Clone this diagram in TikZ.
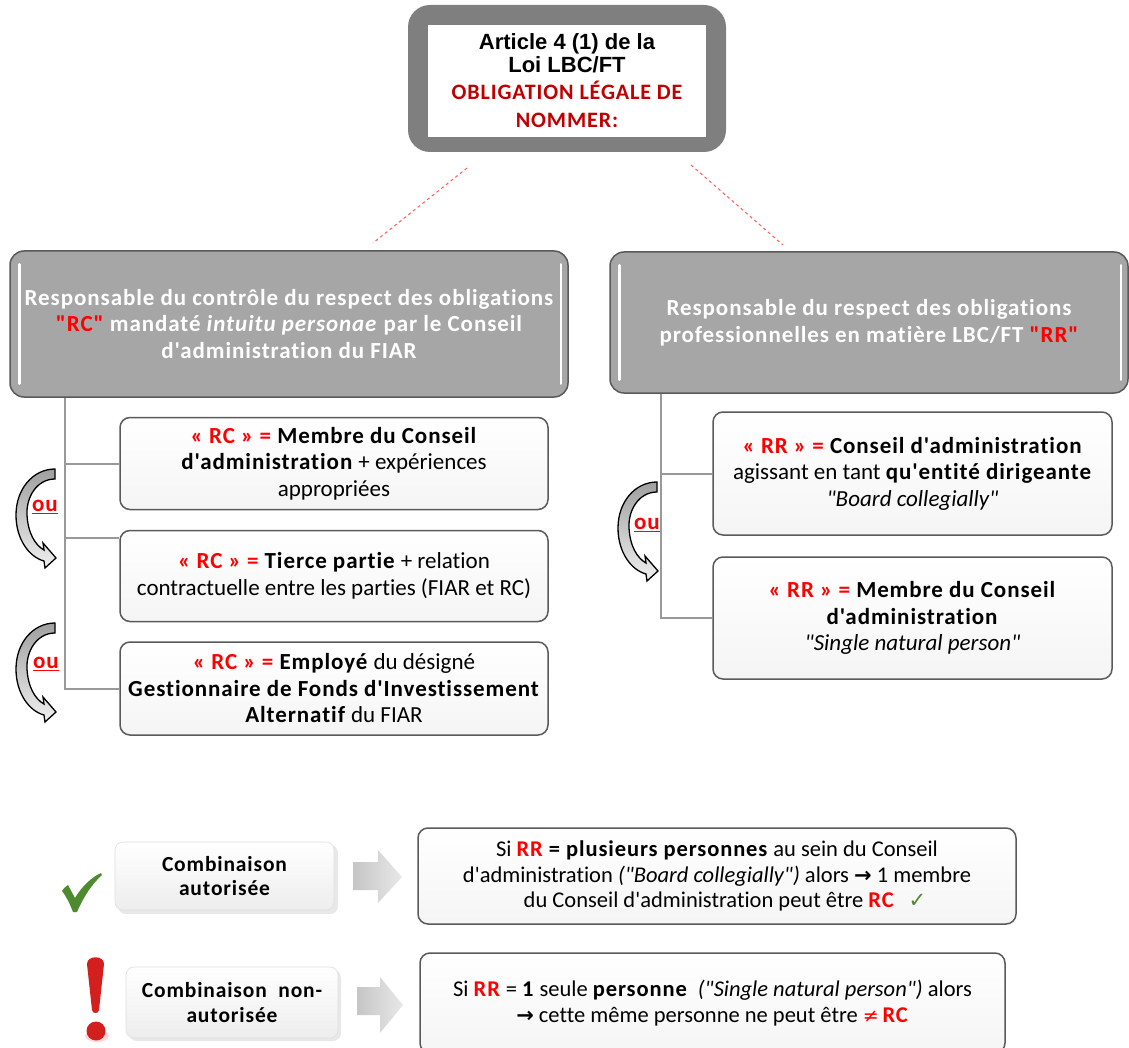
\documentclass[tikz,border=0pt]{standalone}
\usepackage{fontspec}
\setmainfont{Carlito}[Ligatures={TeXOff,CommonOff}, BoldFeatures={LetterSpace=4}, BoldItalicFeatures={LetterSpace=4}]
\newfontfamily\arial{Liberation Sans}
\newfontfamily\dejavu{DejaVu Sans}
\usetikzlibrary{calc}
\definecolor{hdrgray}{HTML}{A6A6A6}
\definecolor{hdrborder}{HTML}{5A5A5A}
\definecolor{topgray}{HTML}{7F7F7F}
\definecolor{darkred}{HTML}{C00000}
\definecolor{brightred}{HTML}{FF0000}
\definecolor{linegray}{HTML}{999999}
\definecolor{chkgreen}{HTML}{4E8A2E}
\definecolor{dashred}{HTML}{FF5A5A}
\definecolor{excred}{HTML}{D41F1F}
\tikzset{
  hdr/.style={draw=hdrborder, line width=1.5pt, fill=hdrgray, rounded corners=14pt,
    text=white, align=center, font=\bfseries\fontsize{23}{26.5}\selectfont},
  infobox/.style={draw=hdrborder, line width=1.5pt, top color=white, bottom color=gray!8,
    rounded corners=10pt, align=center, font=\fontsize{23}{26.5}\selectfont},
  sumbox/.style={infobox, font=\fontsize{22.5}{25.5}\selectfont},
  combobox/.style={draw=gray!25, line width=0.6pt, top color=white, bottom color=gray!14,
    rounded corners=8pt, align=center, font=\bfseries\fontsize{21.5}{24.5}\selectfont},
  tree/.style={draw=linegray, line width=2pt},
  hilite/.style={draw=white, line width=2.5pt, line cap=round},
  dashlink/.style={draw=dashred, line width=1pt, dash pattern=on 3pt off 3pt},
  oulabel/.style={text=brightred, font=\bfseries\fontsize{23}{24}\selectfont},
  blockarrow/.style={left color=gray!45, right color=gray!18, draw=none},
  ouarrow/.pic={
    \draw[line width=1.3pt, top color=gray!75, bottom color=gray!12]
      (0,0) -- (0,10)
      .. controls (-18,10) and (-29,28) .. (-28,46)
      .. controls (-27,64) and (-20,76) .. (-11,81)
      -- (-12,74) -- (1,89) -- (-10,99) -- (-11,92)
      .. controls (-26,88) and (-39,70) .. (-39,46)
      .. controls (-39,20) and (-22,0) .. (0,0) -- cycle;
  }
}
\newcommand{\rd}[1]{{\color{brightred}#1}}
\newcommand{\rarr}{{\dejavu\bfseries\fontsize{21}{22}\selectfont →}}
\begin{document}
\begin{tikzpicture}[x=1pt,y=-1pt]
\useasboundingbox (0,0) rectangle (1129,1048);
\fill[white] (0,0) rectangle (1129,1048);

% top box
\node[fill=topgray, rounded corners=22pt, minimum width=318pt, minimum height=147pt] (topo) at (567,78.5) {};
\node[fill=white, minimum width=278pt, minimum height=112pt, align=center,
  font=\fontsize{22}{23}\selectfont] (top) at (567,81)
  {{\arial\bfseries Article 4 (1) de la}\\{\arial\bfseries Loi LBC/FT}\\[4pt]
   {\color{darkred}\bfseries\fontsize{22}{23}\selectfont OBLIGATION LÉGALE DE}\\[5pt]
   {\color{darkred}\bfseries\fontsize{22}{23}\selectfont NOMMER:}};

% dashed links
\coordinate (dla) at (467,168); \coordinate (dlb) at (373,243);
\coordinate (dra) at (691,165); \coordinate (drb) at (783,245);
\draw[dashlink] (dla) -- (dlb);
\draw[dashlink] (dra) -- (drb);

% headers
\node[hdr, minimum width=558pt, minimum height=146pt] (hL) at (289,324)
  {Responsable du contrôle du respect des obligations\\
   \rd{"RC"} mandaté \textit{intuitu personae} par le Conseil\\
   d'administration du FIAR};
\node[hdr, minimum width=518pt, minimum height=141pt] (hR) at (869,322.5)
  {Responsable du respect des obligations\\
   professionnelles en matière LBC/FT \rd{"RR"}};
\draw[hilite] ($(hL.north west)+(10,14)$) -- ($(hL.south west)+(10,-14)$);
\draw[hilite] ($(hL.north east)+(-8,14)$) -- ($(hL.south east)+(-8,-14)$);
\draw[hilite] ($(hR.north west)+(10,14)$) -- ($(hR.south west)+(10,-14)$);
\draw[hilite] ($(hR.north east)+(-8,14)$) -- ($(hR.south east)+(-8,-14)$);

% left boxes
\node[infobox, minimum width=428pt, minimum height=92pt] (b1) at (334,463.5)
  {\rd{\textbf{« RC » =}} \textbf{Membre du Conseil}\\
   \textbf{d'administration} + expériences\\appropriées};
\node[infobox, minimum width=428pt, minimum height=91pt] (b2) at (334,576)
  {\rd{\textbf{« RC » =}} \textbf{Tierce partie} + relation\\
   contractuelle entre les parties (FIAR et RC)};
\node[infobox, minimum width=428pt, minimum height=93pt] (b3) at (334,688.5)
  {\rd{\textbf{« RC » =}} \textbf{Employé} du désigné\\
   \textbf{Gestionnaire de Fonds d'Investissement}\\
   \textbf{Alternatif} du FIAR};

% right boxes
\node[infobox, minimum width=399pt, minimum height=123pt] (r1) at (912.5,473.5)
  {\rd{\textbf{« RR » =}} \textbf{Conseil d'administration}\\
   agissant en tant \textbf{qu'entité dirigeante}\\
   \textit{"Board collegially"}};
\node[infobox, minimum width=399pt, minimum height=122pt] (r2) at (912.5,618)
  {\rd{\textbf{« RR » =}} \textbf{Membre du Conseil}\\
   \textbf{d'administration}\\
   \textit{"Single natural person"}};

% tree lines
\coordinate (tL) at ($(hL.south west)+(56,0)$);
\coordinate (b2in) at ($(b2.north west)+(0,8)$);
\draw[tree] (tL) |- (b3.west);
\draw[tree] (tL |- b1.west) -- (b1.west);
\draw[tree] (tL |- b2in) -- (b2in);
\coordinate (tR) at ($(hR.south west)+(52,0)$);
\draw[tree] (tR) |- (r2.west);
\draw[tree] (tR |- r1.west) -- (r1.west);

% "ou" arrows
\pic at (55,469) {ouarrow};
\pic at (55,623) {ouarrow};
\pic at (657,482) {ouarrow};
\node[oulabel] (ou1) at (45,507) {\underline{ou}};
\node[oulabel] (ou2) at (46,664) {\underline{ou}};
\node[oulabel] (ou3) at (647,525) {\underline{ou}};

% bottom section
\fill[gray!18, rounded corners=8pt] (118,845) rectangle (338,914);
\node[combobox, minimum width=219pt, minimum height=68pt] (c1) at (224.5,876)
  {Combinaison\\autorisée};
\fill[gray!18, rounded corners=8pt] (129,970) rectangle (341,1041);
\node[combobox, minimum width=212pt, minimum height=71pt] (c2) at (232,1002.5)
  {Combinaison~~non-\\autorisée};

\node[sumbox, minimum width=598pt, minimum height=96pt] (s1) at (717,876)
  {Si \rd{\textbf{RR}} \textbf{= plusieurs personnes} au sein du Conseil\\
   d'administration \textit{("Board collegially")} alors \rarr{} 1 membre\\
   \hspace*{16pt}du Conseil d'administration peut être \rd{\textbf{RC}}\hspace{14pt}{\dejavu\color{chkgreen}\fontsize{21}{22}\selectfont ✓}};
\node[sumbox, minimum width=585pt, minimum height=100pt] (s2) at (712.5,1003)
  {Si \rd{\textbf{RR}} = \textbf{1} seule \textbf{personne}~ \textit{("Single natural person")} alors\\
   \rarr{} cette même personne ne peut être \rd{{\dejavu\fontsize{19}{20}\selectfont ≠}\,\textbf{RC}}};

% block arrows
\path[blockarrow] (353,862) -- (378,862) -- (378,850) -- (402,877) -- (378,903) -- (378,890) -- (353,890) -- cycle;
\path[blockarrow] (357,987) -- (380,987) -- (380,977) -- (403,1005) -- (380,1033) -- (380,1015) -- (357,1015) -- cycle;

% green check
\fill[chkgreen] (62,891) .. controls (64,888) and (66,886) .. (68,885)
  -- (75,898) .. controls (82,886) and (92,877) .. (101,873)
  -- (102,875) .. controls (92,884) and (84,896) .. (77,912)
  -- (73,912) .. controls (70,904) and (66,896) .. (62,891) -- cycle;

% exclamation mark
\fill[excred] (87,964) .. controls (87,955) and (104,955) .. (104,964)
  -- (99,1010) .. controls (98.5,1014) and (92.5,1014) .. (92,1010) -- cycle;
\fill[pink!60] (97,1036) ellipse (12 and 6);
\fill[excred] (96,1031) circle (9.5);
\end{tikzpicture}
\end{document}
